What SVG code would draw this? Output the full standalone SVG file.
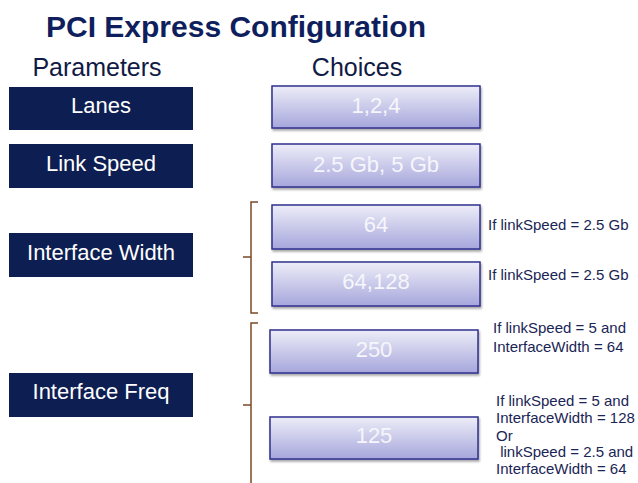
<svg xmlns="http://www.w3.org/2000/svg" width="638" height="483" viewBox="0 0 638 483">
<defs>
<linearGradient id="cg" x1="0" y1="0" x2="0" y2="1">
<stop offset="0" stop-color="#ededf8"/>
<stop offset="1" stop-color="#a6a6dc"/>
</linearGradient>
<filter id="sh" x="-5%" y="-10%" width="115%" height="140%">
<feDropShadow dx="1" dy="2" stdDeviation="1.2" flood-color="#000" flood-opacity="0.35"/>
</filter>
</defs>
<style>
text{font-family:"Liberation Sans",Arial,sans-serif}
.title{font-size:30px;font-weight:bold;fill:#0f1f5e}
.hdr{font-size:25px;fill:#0f1a45}
.pbox{fill:#0d1e52}
.ptxt{font-size:22px;fill:#ffffff;text-anchor:middle}
.cbox{fill:url(#cg);stroke:#2f2f8e;stroke-width:1.5;filter:url(#sh)}
.ctxt{font-size:22px;fill:#f6f6fb;text-anchor:middle}
.note{font-size:15px;fill:#1a2555}
.br{fill:none;stroke:#7b4a28;stroke-width:1.5}
</style>
<rect width="638" height="483" fill="#ffffff"/>
<text class="title" x="236" y="37" text-anchor="middle">PCI Express Configuration</text>
<text class="hdr" x="97" y="76" text-anchor="middle">Parameters</text>
<text class="hdr" x="357" y="76" text-anchor="middle">Choices</text>

<g id="p-lanes"><rect class="pbox" x="9" y="87" width="184" height="43"/><text class="ptxt" x="101" y="113">Lanes</text></g>
<g id="p-linkspeed"><rect class="pbox" x="9" y="144" width="184" height="44"/><text class="ptxt" x="101" y="171">Link Speed</text></g>
<g id="p-ifwidth"><rect class="pbox" x="9" y="233" width="184" height="44"/><text class="ptxt" x="101" y="260">Interface Width</text></g>
<g id="p-iffreq"><rect class="pbox" x="9" y="373" width="184" height="44"/><text class="ptxt" x="101" y="399">Interface Freq</text></g>

<g id="c-lanes"><rect class="cbox" x="272" y="86" width="208" height="42"/><text class="ctxt" x="376" y="113">1,2,4</text></g>
<g id="c-linkspeed"><rect class="cbox" x="272" y="144" width="208" height="43"/><text class="ctxt" x="376" y="172">2.5 Gb, 5 Gb</text></g>
<g id="c-w64"><rect class="cbox" x="272" y="205" width="208" height="44"/><text class="ctxt" x="376" y="232">64</text></g>
<g id="c-w64128"><rect class="cbox" x="272" y="262" width="208" height="44"/><text class="ctxt" x="376" y="289">64,128</text></g>
<g id="c-f250"><rect class="cbox" x="270" y="330" width="208" height="43"/><text class="ctxt" x="374" y="357">250</text></g>
<g id="c-f125"><rect class="cbox" x="270" y="417" width="208" height="42"/><text class="ctxt" x="374" y="443">125</text></g>

<g id="notes">
<text class="note" x="488" y="230">If linkSpeed = 2.5 Gb</text>
<text class="note" x="488" y="280">If linkSpeed = 2.5 Gb</text>
<text class="note" x="493" y="333">If linkSpeed = 5 and</text>
<text class="note" x="493" y="352">InterfaceWidth = 64</text>
<text class="note" x="496" y="406">If linkSpeed = 5 and</text>
<text class="note" x="496" y="423">InterfaceWidth = 128</text>
<text class="note" x="496" y="441">Or</text>
<text class="note" x="496" y="457" xml:space="preserve"> linkSpeed = 2.5 and</text>
<text class="note" x="496" y="474">InterfaceWidth = 64</text>
</g>

<g id="connectors">
<path class="br" d="M258,202 H251 V313 H258 M251,257 H243"/>
<path class="br" d="M258,323 H251 V490 M251,405 H243"/>
</g>
</svg>
